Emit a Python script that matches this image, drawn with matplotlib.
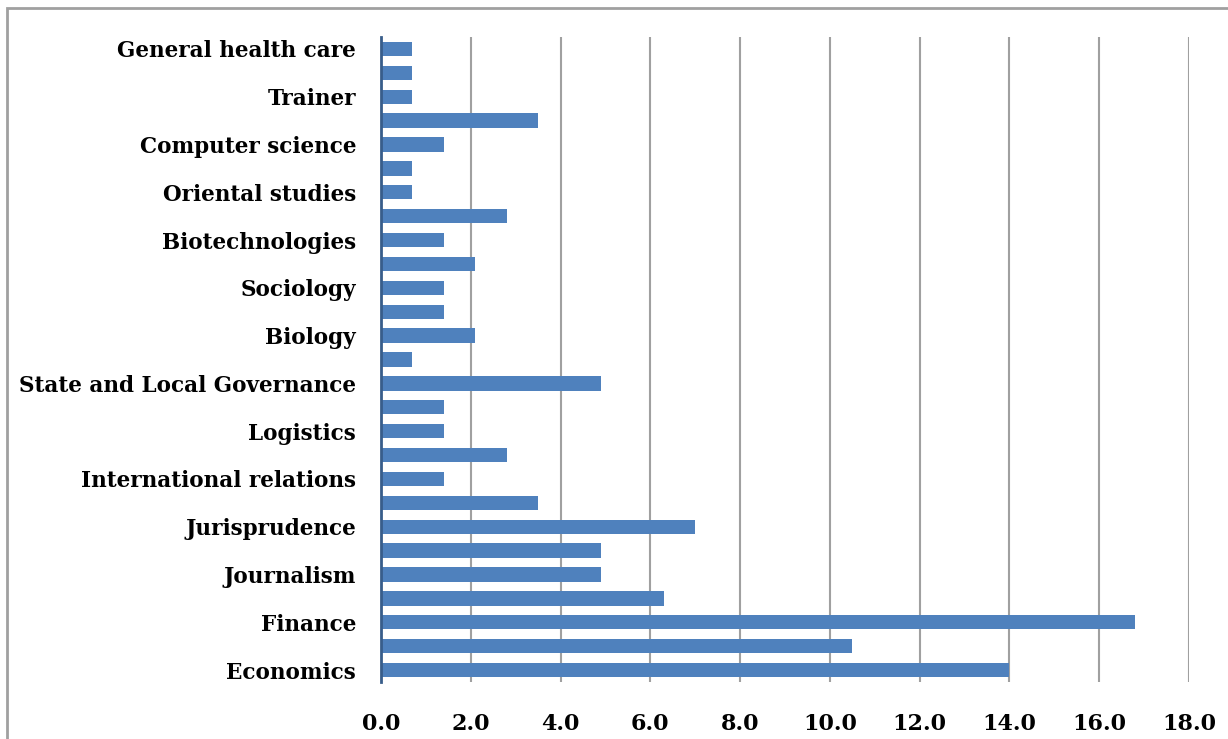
import matplotlib
matplotlib.use('Agg')
import matplotlib.pyplot as plt
from matplotlib.patches import Rectangle

# bottom to top, as drawn; unnamed rows have hidden labels in the source
categories = ['Economics', '', 'Finance', '', 'Journalism', '', 'Jurisprudence', '',
              'International relations', '', 'Logistics', '', 'State and Local Governance', '',
              'Biology', '', 'Sociology', '', 'Biotechnologies', '', 'Oriental studies', '',
              'Computer science', '', 'Trainer', '', 'General health care']
values = [14.0, 10.5, 16.8, 6.3, 4.9, 4.9, 7.0, 3.5, 1.4, 2.8, 1.4, 1.4, 4.9, 0.7,
          2.1, 1.4, 1.4, 2.1, 1.4, 2.8, 0.7, 0.7, 1.4, 3.5, 0.7, 0.7, 0.7]
xticks = [0, 2, 4, 6, 8, 10, 12, 14, 16, 18]

plt.rcParams['font.family'] = ['DejaVu Serif']
plt.rcParams['font.weight'] = 'bold'

fig = plt.figure(figsize=(12.28, 7.39), dpi=100)
ax = fig.add_axes([381/1228, 1 - 682/739, (1189 - 381)/1228, (682 - 37)/739])

pos = list(range(len(values)))
ax.barh(pos, values, height=0.6, color='#4F81BD', zorder=3)

ax.set_xlim(0, 18)
ax.set_ylim(-0.5, len(values) - 0.5)
ax.set_xticks(xticks)
ax.set_xticklabels(['%.1f' % t for t in xticks], fontsize=16, fontweight='bold')
ax.set_yticks(pos[::2])
ax.set_yticklabels(categories[::2], fontsize=15.5, fontweight='bold')
ax.tick_params(axis='x', length=0, pad=22)
ax.tick_params(axis='y', length=0, pad=18)

for t in xticks[1:]:
    ax.axvline(t, color='#A0A0A0', lw=1.5, zorder=1)

for s in ['top', 'right', 'bottom']:
    ax.spines[s].set_visible(False)
ax.spines['left'].set_color('#385D8A')
ax.spines['left'].set_linewidth(2)
ax.spines['left'].set_zorder(4)

fig.patches.append(Rectangle((7/1228, -0.1), 1.2, 1 - 8/739 + 0.1, transform=fig.transFigure,
                             fill=False, edgecolor='#A0A0A0', lw=2))

fig.savefig('out.png', dpi=100)
